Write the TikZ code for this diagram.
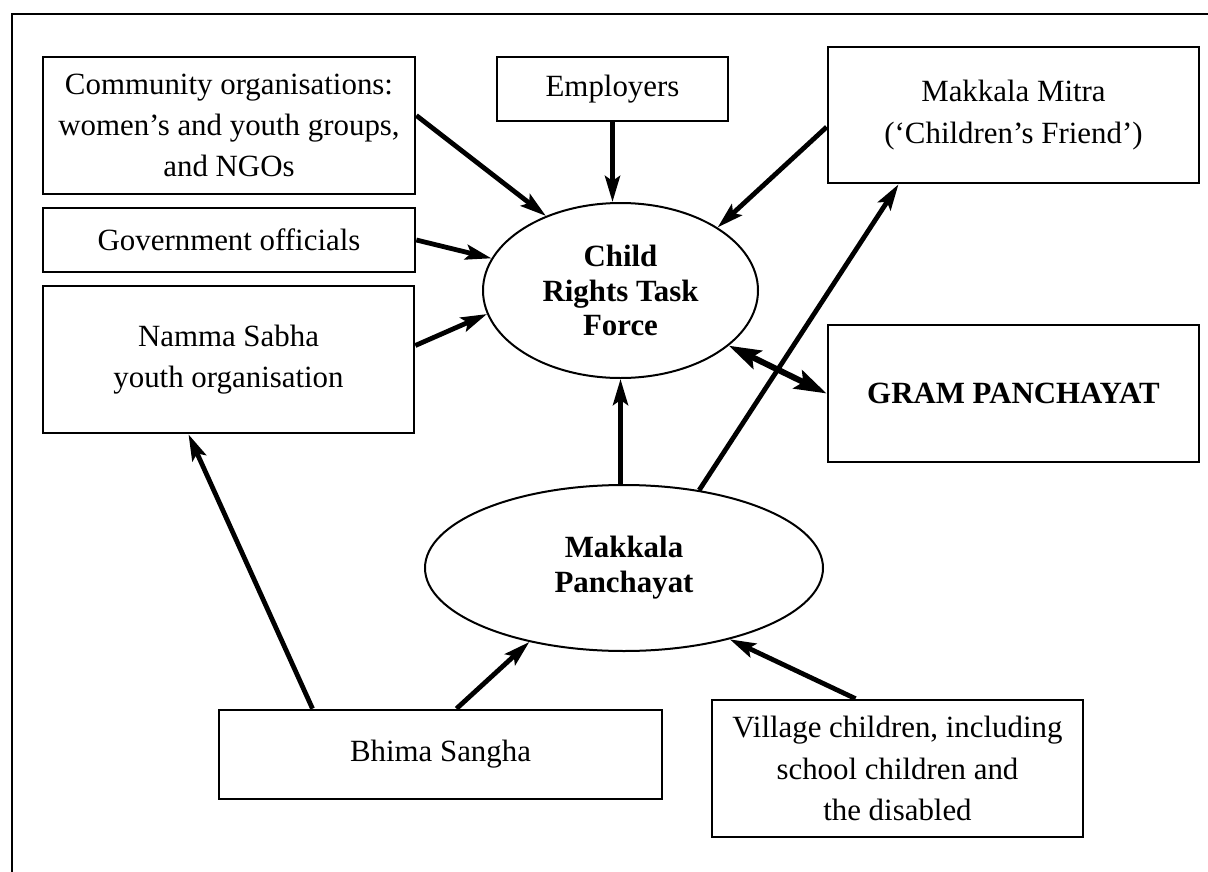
\documentclass[tikz,border=0pt]{standalone}
\usepackage{fontspec}
\setmainfont{Liberation Serif}
\usetikzlibrary{arrows.meta,shapes.geometric}
\begin{document}
\begin{tikzpicture}[x=1bp,y=-1bp,
  box/.style={draw,line width=2.7bp,align=center,inner sep=0pt,
    font=\fontsize{31}{41.5}\selectfont},
  oval/.style={draw,ellipse,line width=2bp,inner sep=0pt,align=center,
    font=\fontsize{31}{35}\selectfont\bfseries},
  link/.style={line width=4.8bp,-{Stealth[length=26bp,width=15bp,inset=5bp]}},
  twoway/.style={line width=6bp,{Stealth[length=32bp,width=20bp,inset=6bp]}-{Stealth[length=32bp,width=20bp,inset=6bp]}}]
\useasboundingbox (0,0) rectangle (1208,872);

% outer frame (top and left sides)
\draw[line width=2.7bp] (12,872) -- (12,14) -- (1208,14);

% left column
\node[box,minimum width=372bp,minimum height=137bp] (comm) at (229,125.5)
  {Community organisations:\\women's and youth groups,\\and NGOs};
\node[box,minimum width=372bp,minimum height=64bp] (gov) at (229,240) {Government officials};
\node[box,minimum width=371bp,minimum height=147bp] (namma) at (228.5,359.5)
  {Namma Sabha\\youth organisation};

% top and right
\node[box,minimum width=231bp,minimum height=64bp] (emp) at (612.5,89) {Employers};
\node[box,minimum width=371bp,minimum height=136bp] (mm) at (1013.5,115)
  {Makkala Mitra\\(`Children's Friend')};
\node[box,minimum width=371bp,minimum height=137bp,font=\fontsize{31}{41}\selectfont\bfseries]
  (gram) at (1013.5,393.5) {GRAM PANCHAYAT};

% bottom row
\node[box,minimum width=443bp,minimum height=89bp] (bhima) at (440.5,754.5) {Bhima Sangha};
\node[box,minimum width=371bp,minimum height=137bp] (village) at (897.5,768.5)
  {Village children, including\\school children and\\the disabled};

% ellipses
\node[oval,minimum width=275bp,minimum height=175bp] (crtf) at (620.5,290.5)
  {Child\\Rights Task\\Force};
\node[oval,minimum width=398bp,minimum height=166bp] (mp) at (624,568)
  {Makkala\\Panchayat};

% connectors
\draw[link] ([yshift=10bp]comm.east) -- (crtf.135);
\draw[link] (emp.south) -- (emp.south |- crtf.north);
\draw[link] ([yshift=-12bp]mm.west) -- (crtf.33);
\draw[link] (gov.east) -- (crtf.166);
\draw[link] ([yshift=14bp]namma.east) -- (crtf.190);
\draw[twoway] (crtf.-27) -- (gram.west);
\draw[link] (mp.north -| crtf.south) -- (crtf.south);
\draw[link] (mp.46.5) -- ([xshift=-115bp]mm.south);
\draw[link] ([xshift=-128bp]bhima.north) -- ([xshift=-40bp]namma.south);
\draw[link] ([xshift=16bp]bhima.north) -- (mp.218);
\draw[link] ([xshift=-42bp]village.north) -- (mp.-34);
\end{tikzpicture}
\end{document}
